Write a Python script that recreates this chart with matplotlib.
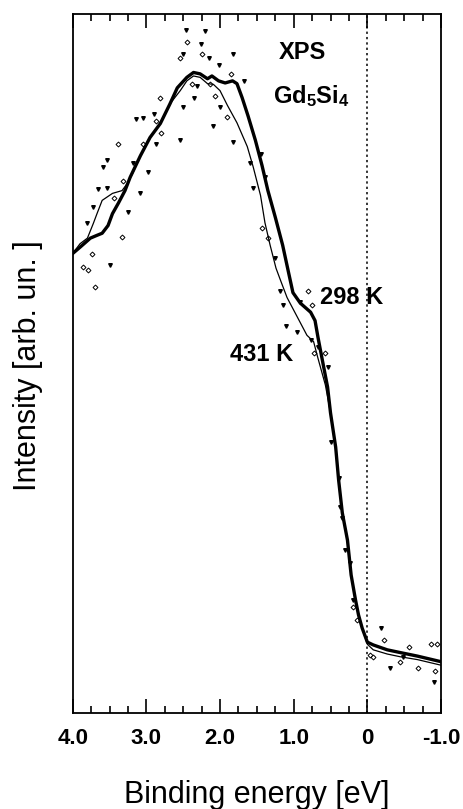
import matplotlib
matplotlib.use('Agg')
import matplotlib.pyplot as plt
from matplotlib.ticker import MultipleLocator

plt.rcParams['font.family'] = ['Liberation Sans', 'DejaVu Sans']
plt.rcParams['mathtext.fontset'] = 'custom'
plt.rcParams['mathtext.rm'] = 'Liberation Sans:bold'
plt.rcParams['mathtext.default'] = 'rm'

# smoothed spectra, binding energy [eV] vs intensity [arb. un.]
e_298 = [4.00, 3.90, 3.76, 3.67, 3.60, 3.52, 3.46, 3.38, 3.29, 3.22, 3.08, 2.95, 2.81,
         2.68, 2.58, 2.45, 2.36, 2.27, 2.17, 2.11, 2.02, 1.93, 1.83, 1.77, 1.70, 1.62,
         1.52, 1.43, 1.35, 1.25, 1.15, 1.07, 1.01, 0.91, 0.77, 0.71, 0.67, 0.61, 0.54,
         0.50, 0.43, 0.39, 0.34, 0.27, 0.22, 0.16, 0.12, 0.07, 0.00, -0.08, -0.27,
         -0.45, -0.68, -1.00]
i_298 = [65.7, 66.6, 67.9, 68.3, 68.6, 69.7, 71.4, 72.9, 74.7, 76.6, 79.7, 82.3, 84.3,
         87.1, 89.4, 90.9, 91.6, 91.4, 90.7, 91.1, 90.4, 90.1, 90.4, 90.0, 88.0, 85.4,
         81.9, 78.3, 74.7, 70.9, 66.9, 63.0, 60.1, 58.6, 57.3, 56.1, 53.7, 50.4, 46.6,
         42.9, 38.0, 33.3, 28.6, 24.7, 19.7, 16.1, 14.0, 12.1, 10.1, 9.7, 9.0,
         8.6, 8.1, 7.3]

e_431 = [4.00, 3.90, 3.80, 3.72, 3.67, 3.60, 3.46, 3.33, 3.26, 3.18, 3.08, 2.95, 2.81,
         2.68, 2.54, 2.45, 2.36, 2.27, 2.17, 2.09, 2.00, 1.90, 1.77, 1.63, 1.55, 1.45,
         1.39, 1.32, 1.24, 1.18, 1.09, 0.95, 0.82, 0.73, 0.67, 0.57, 0.50, 0.43, 0.39,
         0.34, 0.27, 0.22, 0.16, 0.12, 0.07, 0.00, -0.08, -0.27, -0.45, -0.68, -1.00]
i_431 = [65.7, 67.1, 67.9, 70.0, 71.4, 73.3, 74.3, 74.7, 75.7, 77.3, 79.7, 82.3, 84.4,
         87.1, 89.0, 90.4, 91.1, 90.9, 90.0, 89.9, 89.0, 86.9, 84.4, 81.0, 78.1, 74.0,
         70.1, 66.9, 63.6, 61.9, 59.4, 56.6, 54.0, 53.1, 50.7, 46.9, 42.9, 38.0, 33.3,
         28.6, 24.7, 19.7, 16.1, 14.0, 12.1, 9.8, 9.0, 8.4, 8.0, 7.6, 6.8]

# raw data points
e_pts_a = [2.46, 2.21, 2.26, 2.50, 2.15, 1.82, 2.01, 1.68, 2.31, 2.35, 2.50, 2.00, 2.89,
           3.14, 3.04, 2.09, 2.54, 1.82, 2.87, 3.53, 3.59, 3.18, 2.98, 1.59, 1.45, 1.39,
           3.53, 3.65, 3.08, 1.55, 3.25, 3.72, 3.80, 3.49, 1.18, 1.14, 1.25, 0.91, 1.11,
           0.95, 0.77, 0.67, 0.54, 0.50, 0.39, 0.37, 0.34, 0.30, 0.23, 0.20, -0.19,
           -0.31, -0.90, -0.49]
i_pts_a = [97.7, 97.6, 95.7, 94.3, 93.7, 94.3, 92.7, 90.4, 89.7, 88.0, 86.6, 86.6, 85.7,
           85.0, 85.1, 83.9, 81.9, 81.6, 81.4, 79.1, 78.1, 78.6, 77.3, 78.6, 80.0, 76.6,
           75.1, 74.9, 74.3, 75.0, 71.6, 72.3, 70.0, 64.0, 60.4, 58.3, 65.0, 58.7, 55.3,
           54.4, 53.3, 52.3, 49.4, 38.7, 33.6, 29.4, 27.9, 23.3, 21.4, 16.1, 12.1,
           6.4, 4.4, 8.0]

e_pts_b = [2.45, 2.55, 2.24, 1.85, 2.38, 2.13, 2.07, 2.81, 1.90, 2.87, 2.80, 3.38, 3.04,
           3.32, 3.44, 3.33, 1.43, 1.35, 3.74, 3.86, 3.79, 3.70, 0.80, 0.75, 0.57, 0.73,
           0.19, 0.14, -0.23, -0.56, -0.86, -0.95, -0.04, -0.45, -0.69, -0.92, -0.07]
i_pts_b = [96.0, 93.7, 94.3, 91.4, 90.0, 90.0, 88.3, 87.9, 85.3, 84.7, 83.0, 81.4, 81.3,
           76.1, 73.7, 68.0, 69.4, 67.9, 65.7, 63.7, 63.4, 60.9, 60.4, 58.4, 51.4, 51.4,
           15.1, 13.3, 10.4, 9.4, 9.9, 9.9, 8.3, 7.3, 6.4, 5.9, 8.0]

fig = plt.figure(figsize=(4.63, 8.09), dpi=100)
ax = fig.add_axes([0.157, 0.119, 0.7955, 0.864])

ax.plot(e_pts_a, i_pts_a, linestyle='none', marker='v', markersize=2.6,
        color='black')
ax.plot(e_pts_b, i_pts_b, linestyle='none', marker='D', markersize=2.5,
        markerfacecolor='white', markeredgecolor='black', markeredgewidth=0.7)
ax.plot(e_431, i_431, color='black', linewidth=0.9)
ax.plot(e_298, i_298, color='black', linewidth=2.4)

ax.axvline(0, color='black', linestyle=(0, (1.5, 2.0)), linewidth=1.1)

ax.set_xlim(4.0, -1.0)
ax.set_ylim(0, 100)

ax.xaxis.set_minor_locator(MultipleLocator(0.25))
ax.set_xticks([4, 3, 2, 1, 0, -1])
ax.set_xticklabels(['4.0', '3.0', '2.0', '1.0', '0', '-1.0'],
                   fontweight='bold', fontsize=16)
ax.tick_params(axis='x', which='both', direction='in', top=True, bottom=True,
               width=1.2, pad=11)
ax.tick_params(axis='x', which='major', length=10)
ax.tick_params(axis='x', which='minor', length=5)
ax.set_yticks([])

for sp in ax.spines.values():
    sp.set_linewidth(1.3)

ax.set_xlabel('Binding energy [eV]', fontsize=22)
ax.set_ylabel('Intensity [arb. un. ]', fontsize=22)
ax.xaxis.set_label_coords(0.5, -0.096)
ax.yaxis.set_label_coords(-0.081, 0.497)

ax.text(1.20, 94.4, 'XPS', fontsize=17, fontweight='bold', ha='left', va='center')
ax.text(1.28, 88.2, r'Gd$_5$Si$_4$', fontsize=17, fontweight='bold',
        ha='left', va='center')
ax.text(0.64, 59.4, '298 K', fontsize=17, fontweight='bold', ha='left', va='center')
ax.text(1.86, 51.3, '431 K', fontsize=17, fontweight='bold', ha='left', va='center')

fig.savefig('out.png', dpi=100)
